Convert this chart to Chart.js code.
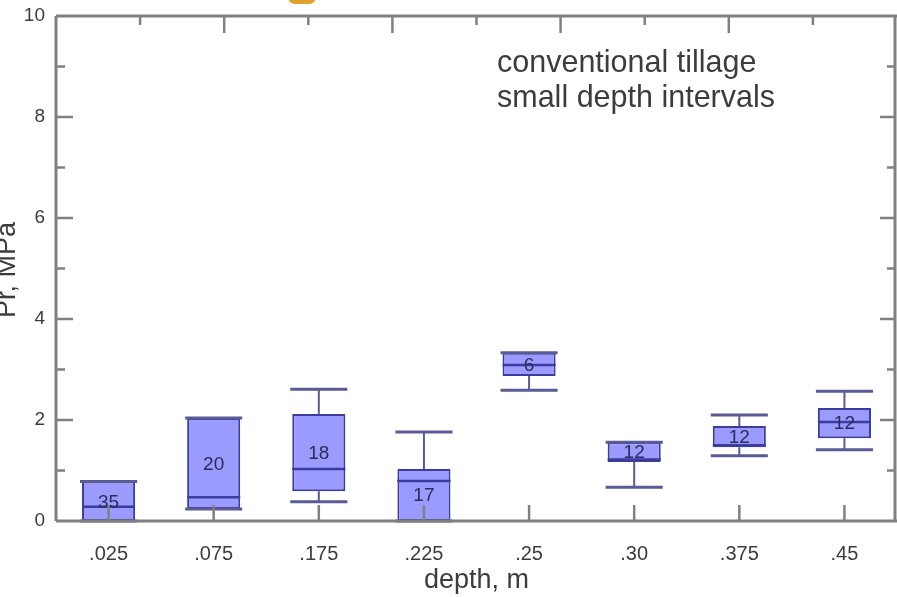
<!DOCTYPE html>
<html>
<head>
<meta charset="utf-8">
<script src="https://cdn.jsdelivr.net/npm/chart.js@4.4.1/dist/chart.umd.min.js"></script>
<style>
  html, body { margin: 0; padding: 0; background: #fff; overflow: hidden; }
  #wrap { width: 897px; height: 597px; position: relative; }
</style>
</head>
<body>
<div id="wrap"><canvas id="c" width="897" height="597"></canvas></div>
<script>
// Penetration resistance by depth, conventional tillage (small depth intervals)
const depths      = ['.025', '.075', '.175', '.225', '.25', '.30', '.375', '.45'];
const whiskerLow  = [0.00, 0.24, 0.38, 0.00, 2.59, 0.67, 1.29, 1.41];
const quart1      = [0.00, 0.24, 0.59, 0.00, 2.87, 1.17, 1.46, 1.64];
const medians     = [0.28, 0.47, 1.03, 0.79, 3.09, 1.22, 1.50, 1.96];
const quart3      = [0.78, 2.04, 2.12, 1.03, 3.33, 1.56, 1.88, 2.24];
const whiskerHigh = [0.78, 2.04, 2.61, 1.76, 3.33, 1.56, 2.10, 2.57];
const counts      = [35, 20, 18, 17, 6, 12, 12, 12];
const noteLines   = ['conventional tillage', 'small depth intervals'];
const topTickDivisions = 10;

const FONT = "'Liberation Sans', Arial, Helvetica, sans-serif";
const AXIS = '#808080';
const TEXT = '#3c3c3c';
const BOX_FILL = '#9a9aff';
const BOX_EDGE = '#3c3c9e';
const WHISK = '#5a5a96';

function seg(ctx, x1, y1, x2, y2) {
  ctx.beginPath(); ctx.moveTo(x1, y1); ctx.lineTo(x2, y2); ctx.stroke();
}

const boxParts = {
  id: 'boxParts',
  beforeDraw(chart) {
    const ctx = chart.ctx;
    ctx.save();
    ctx.fillStyle = '#ffffff';
    ctx.fillRect(0, 0, chart.width, chart.height);
    ctx.restore();
  },
  afterDatasetsDraw(chart) {
    const ctx = chart.ctx;
    const y = chart.scales.y;
    const x = chart.scales.x;
    const area = chart.chartArea;
    const meta = chart.getDatasetMeta(0);
    ctx.save();

    // whiskers, caps, medians and sample counts
    meta.data.forEach((bar, i) => {
      const cx = bar.x;
      const hw = bar.width / 2;
      const yQ1 = y.getPixelForValue(quart1[i]);
      const yQ3 = y.getPixelForValue(quart3[i]);
      const yLo = y.getPixelForValue(whiskerLow[i]);
      const yHi = y.getPixelForValue(whiskerHigh[i]);
      const yMed = y.getPixelForValue(medians[i]);
      ctx.strokeStyle = WHISK;
      ctx.lineWidth = 2;
      seg(ctx, cx, yQ3, cx, yHi);
      seg(ctx, cx, yQ1, cx, yLo);
      ctx.lineWidth = 3;
      seg(ctx, cx - hw - 2, yHi, cx + hw + 2, yHi);
      seg(ctx, cx - hw - 2, yLo, cx + hw + 2, yLo);
      ctx.strokeStyle = BOX_EDGE;
      ctx.lineWidth = 2.5;
      seg(ctx, cx - hw, yMed, cx + hw, yMed);

      ctx.fillStyle = '#2c2c58';
      ctx.font = '19px ' + FONT;
      ctx.textAlign = 'center';
      ctx.textBaseline = 'middle';
      ctx.fillText(String(counts[i]), cx, y.getPixelForValue((quart1[i] + quart3[i]) / 2) + 1);
    });

    // plot frame with inward ticks
    const L = area.left, R = area.right - 2, T = area.top, B = area.bottom;
    ctx.strokeStyle = AXIS;
    ctx.lineWidth = 3;
    ctx.lineCap = 'butt';
    ctx.beginPath();
    ctx.moveTo(L, T); ctx.lineTo(area.right, T);
    ctx.moveTo(L, T); ctx.lineTo(L, B);
    ctx.moveTo(L, B); ctx.lineTo(area.right, B);
    ctx.moveTo(R, T); ctx.lineTo(R, B);
    ctx.stroke();

    ctx.lineWidth = 2.5;
    for (let v = Math.ceil(y.min); v <= y.max; v++) {
      if (v === y.min || v === y.max) continue;
      const py = y.getPixelForValue(v);
      const major = v % 2 === 0;
      seg(ctx, L, py, L + (major ? 17 : 9), py);
      seg(ctx, R, py, R - (major ? 15 : 8), py);
    }
    for (let k = 1; k < topTickDivisions; k++) {
      const px = x.getPixelForDecimal(k / topTickDivisions);
      seg(ctx, px, T, px, T + (k % 2 === 0 ? 17 : 9));
    }
    depths.forEach((d, i) => {
      const px = x.getPixelForValue(i);
      seg(ctx, px, B, px, B - 16);
    });

    // note text
    ctx.fillStyle = TEXT;
    ctx.font = '30.5px ' + FONT;
    ctx.textAlign = 'left';
    ctx.textBaseline = 'alphabetic';
    ctx.fillText(noteLines[0], 497, 72);
    ctx.fillText(noteLines[1], 497, 107);

    // y-axis title
    ctx.save();
    ctx.translate(15, 270);
    ctx.rotate(-Math.PI / 2);
    ctx.textAlign = 'center';
    ctx.textBaseline = 'alphabetic';
    ctx.font = '27px ' + FONT;
    ctx.fillText('Pr, MPa', 0, 0);
    ctx.restore();

    // small badge at the top edge
    ctx.fillStyle = '#dfa12c';
    ctx.beginPath();
    ctx.roundRect(288, -12, 28, 16, 7);
    ctx.fill();

    ctx.restore();
  }
};

new Chart(document.getElementById('c'), {
  type: 'bar',
  data: {
    labels: depths,
    datasets: [{
      label: 'Pr',
      data: depths.map((d, i) => [quart1[i], quart3[i]]),
      backgroundColor: BOX_FILL,
      borderColor: BOX_EDGE,
      borderWidth: 2,
      borderSkipped: false,
      categoryPercentage: 1,
      barPercentage: 0.505
    }]
  },
  options: {
    responsive: false,
    devicePixelRatio: 1,
    animation: false,
    layout: { padding: { top: 16, right: 0, left: 0, bottom: 0 } },
    plugins: { legend: { display: false }, tooltip: { enabled: false } },
    scales: {
      x: {
        type: 'category',
        offset: true,
        grid: { display: false, drawTicks: false },
        border: { display: false },
        ticks: { color: TEXT, font: { family: FONT, size: 20 }, padding: 21, maxRotation: 0 },
        title: { display: true, text: 'depth, m', color: TEXT, font: { family: FONT, size: 27 }, padding: { top: 0, bottom: 0 } },
        afterFit(s) { s.height = 76; s.paddingLeft = 0; s.paddingRight = 0; }
      },
      y: {
        min: 0,
        max: 10,
        grid: { display: false, drawTicks: false },
        border: { display: false },
        ticks: { stepSize: 2, color: TEXT, font: { family: FONT, size: 19 }, padding: 11 },
        afterFit(s) { s.width = 56; s.paddingTop = 0; s.paddingBottom = 0; }
      }
    }
  },
  plugins: [boxParts]
});
</script>
</body>
</html>
